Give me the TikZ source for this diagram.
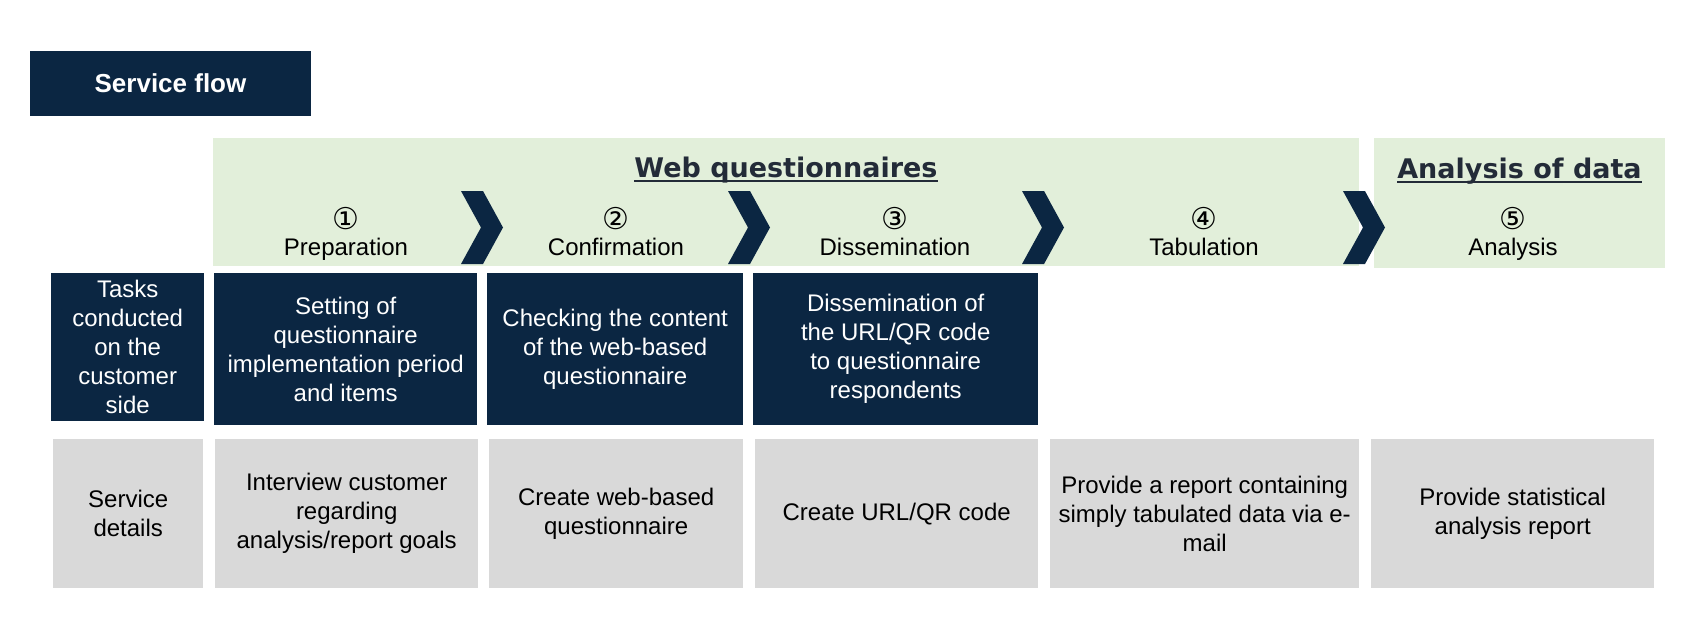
\documentclass[tikz,border=0pt]{standalone}
\usepackage{fontspec}
\setmainfont{Liberation Sans}
\newfontfamily\circfont{DejaVu Sans}
\newfontfamily\headfont{DejaVu Sans}
\usetikzlibrary{positioning}

\definecolor{navy}{HTML}{0B2642}
\definecolor{palegreen}{HTML}{E2EFDA}
\definecolor{boxgray}{HTML}{D9D9D9}
\definecolor{headtext}{HTML}{232B38}

\begin{document}
\begin{tikzpicture}[x=1pt, y=-1pt,
    every node/.style={inner sep=0pt, align=center,
      font=\fontsize{24}{29}\selectfont},
    phase/.style={fill=palegreen, anchor=north west},
    task/.style={fill=navy, text=white, anchor=north west},
    detail/.style={fill=boxgray, text=black, anchor=north west},
    heading/.style={font=\headfont\bfseries\fontsize{27}{32}\selectfont,
      text=headtext, anchor=base},
  ]
  \useasboundingbox (0,0) rectangle (1694,626);

  % banner
  \node[fill=navy, text=white, minimum width=281, minimum height=65,
    font=\bfseries\fontsize{26}{31}\selectfont] (banner) at (170.5,83.5) {Service flow};

  % phases
  \node[phase, minimum width=1146, minimum height=128] (web) at (213,138) {};
  \node[phase, minimum width=291, minimum height=130] (ana) at (1374,138) {};
  \node[heading] (webtitle) at (786,177) {Web questionnaires};
  \node[heading] (anatitle) at (1519.5,178) {Analysis of data};
  \foreach \t in {webtitle, anatitle}
    \draw[headtext, line width=2pt] ([yshift=-3.5pt]\t.base west)
      -- ([yshift=-3.5pt]\t.base east);

  % chevrons
  \foreach \x in {461, 728, 1022, 1343}
    \fill[navy] (\x,191) -- (\x+22,191) -- (\x+42,227.5)
      -- (\x+22,264) -- (\x,264) -- (\x+20,227.5) -- cycle;

  % steps
  \foreach \i/\xc/\num/\txt in {1/346/①/Preparation, 2/616/②/Confirmation,
      3/895/③/Dissemination, 4/1204/④/Tabulation, 5/1513/⑤/Analysis} {
    \node[font=\circfont\fontsize{30}{30}\selectfont] (num-\i) at (\xc,219) {\num};
    \node[anchor=base] (step-\i) at (\xc,255) {\txt};
  }

  % tasks on the customer side
  \foreach \i/\xa/\xb/\yb/\txt in {
      0/51/204/421/{Tasks\\conducted\\on the\\customer\\side},
      1/214/477/425/{Setting of\\questionnaire\\implementation period\\and items},
      2/487/743/425/{Checking the content\\of the web-based\\questionnaire},
      3/753/1038/425/{Dissemination of\\the URL/QR code\\to questionnaire\\respondents}}
    \node[task, minimum width=\xb-\xa, minimum height=\yb-273] (task-\i) at (\xa,273) {\txt};

  % service details
  \foreach \i/\xa/\xb/\txt in {
      0/53/203/{Service\\details},
      1/215/478/{Interview customer\\regarding\\analysis/report goals},
      2/489/743/{Create web-based\\questionnaire},
      3/755/1038/{Create URL/QR code},
      4/1050/1359/{Provide a report containing\\simply tabulated data via e-\\mail},
      5/1371/1654/{Provide statistical\\analysis report}}
    \node[detail, minimum width=\xb-\xa, minimum height=149] (detail-\i) at (\xa,439) {\txt};

\end{tikzpicture}
\end{document}
